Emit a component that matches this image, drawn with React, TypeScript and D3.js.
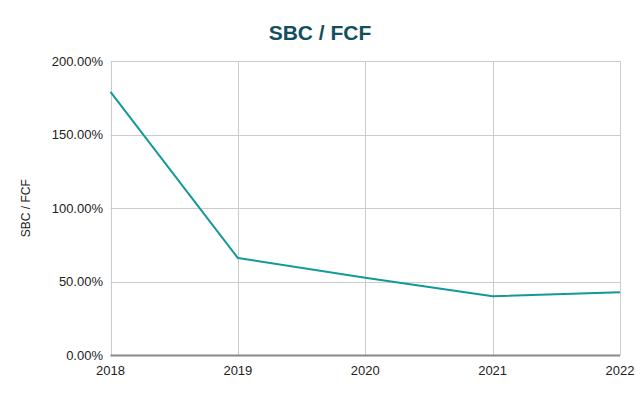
import React from "react";
import * as d3 from "d3";

const years = ["2018", "2019", "2020", "2021", "2022"];
const values = [179.0, 66.2, 52.8, 40.2, 42.9];
const yTicks = [0, 50, 100, 150, 200];

const W = 640;
const H = 396;
const M = { left: 110.5, right: 20, top: 61, bottom: 40.5 };

export default function App() {
  const x = d3
    .scalePoint<string>()
    .domain(years)
    .range([M.left, W - M.right]);
  const y = d3
    .scaleLinear()
    .domain([0, 200])
    .range([H - M.bottom, M.top]);

  const line = d3
    .line<number>()
    .x((_, i) => x(years[i]) as number)
    .y((d) => y(d));

  const font = "Arial, 'Liberation Sans', sans-serif";

  return (
    <svg
      width={W}
      height={H}
      style={{ position: "absolute", left: 0, top: 0, background: "#fff" }}
      fontFamily={font}
    >
      <text
        x={320}
        y={40}
        textAnchor="middle"
        fontSize={21}
        fontWeight="bold"
        fill="#134f5c"
      >
        SBC / FCF
      </text>
      {yTicks.map((t) => (
        <g key={t}>
          {t !== 0 && (
            <line
              x1={M.left}
              x2={W - M.right}
              y1={Math.round(y(t)) + 0.5}
              y2={Math.round(y(t)) + 0.5}
              stroke="#cccccc"
              strokeWidth={1}
            />
          )}
          <text
            x={103}
            y={y(t) + 4.5}
            textAnchor="end"
            fontSize={13}
            fill="#222"
          >
            {t.toFixed(2)}%
          </text>
        </g>
      ))}
      {years.map((yr) => (
        <g key={yr}>
          <line
            x1={Math.round(x(yr) as number) + 0.5}
            x2={Math.round(x(yr) as number) + 0.5}
            y1={M.top}
            y2={H - M.bottom}
            stroke="#cccccc"
            strokeWidth={1}
          />
          <text
            x={x(yr) as number}
            y={375}
            textAnchor="middle"
            fontSize={13}
            fill="#222"
          >
            {yr}
          </text>
        </g>
      ))}
      <line
        x1={M.left}
        x2={W - M.right}
        y1={y(0)}
        y2={y(0)}
        stroke="#888"
        strokeWidth={2}
      />
      <path
        d={line(values) || ""}
        fill="none"
        stroke="#129a9a"
        strokeWidth={2}
        strokeLinejoin="round"
      />
      <text
        transform={`translate(30, ${(M.top + H - M.bottom) / 2}) rotate(-90)`}
        textAnchor="middle"
        fontSize={12}
        fill="#222"
      >
        SBC / FCF
      </text>
    </svg>
  );
}
